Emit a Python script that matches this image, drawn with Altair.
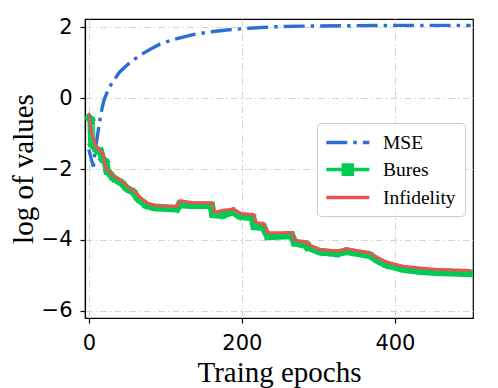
import altair as alt
import pandas as pd

series_names = ["MSE", "Bures", "Infidelity"]
series_colors = ["#2b6fd6", "#00cc55", "#eb5252"]
series_dashes = [[21, 6, 3.5, 6], [1, 0], [1, 0]]

mse_epoch = [0, 3, 6, 8, 11, 15, 17.5, 20, 25, 30, 40, 50, 60, 71, 82, 93, 110, 136, 160, 180, 210, 241, 280, 330, 400, 450, 499]
mse_value = [-1.45, -1.7, -1.93, -1.55, -1.1, -0.54, -0.27, -0.05, 0.22, 0.42, 0.73, 0.93, 1.1, 1.26, 1.4, 1.52, 1.65, 1.79, 1.87, 1.92, 1.97, 2.01, 2.03, 2.04, 2.05, 2.05, 2.05]

bures_epoch = [0, 3, 4, 10, 15, 18, 22, 24, 32, 43, 50, 58, 65, 75, 85, 100, 115, 119, 135, 160, 162, 175, 188, 197, 214, 216, 228, 234, 265, 269, 285, 286, 302, 324, 337, 367, 377, 389, 411, 433, 455, 497]
bures_value = [-0.55, -0.62, -1.3, -1.45, -1.5, -1.72, -1.8, -2.05, -2.25, -2.4, -2.55, -2.65, -2.85, -3.02, -3.08, -3.1, -3.12, -3.0, -3.02, -3.02, -3.28, -3.3, -3.2, -3.32, -3.37, -3.62, -3.64, -3.9, -3.87, -4.08, -4.15, -4.2, -4.33, -4.38, -4.32, -4.43, -4.57, -4.7, -4.82, -4.88, -4.91, -4.94]

inf_epoch = [0, 3.5, 10, 18, 23, 32, 43, 49, 58, 64.5, 77.5, 84, 100, 115, 119, 136, 160, 164.5, 175.5, 188, 193, 199.5, 215, 219, 228, 234, 265, 269, 285, 286, 302, 324, 337, 367, 377, 389, 411, 433, 455, 499]
inf_value = [-0.44, -1.01, -1.39, -1.55, -2.0, -2.19, -2.33, -2.47, -2.6, -2.76, -2.97, -3.02, -3.05, -3.06, -2.89, -2.95, -2.95, -3.22, -3.16, -3.13, -3.18, -3.26, -3.28, -3.52, -3.53, -3.8, -3.79, -4.01, -4.05, -4.12, -4.27, -4.31, -4.25, -4.36, -4.5, -4.62, -4.74, -4.79, -4.83, -4.86]

x_ticks = [0, 200, 400]
y_ticks = [-6, -4, -2, 0, 2]

df_mse = pd.DataFrame({"epoch": mse_epoch, "value": mse_value, "series": "MSE"})
df_bures = pd.DataFrame({"epoch": bures_epoch, "value": bures_value, "series": "Bures"})
df_inf = pd.DataFrame({"epoch": inf_epoch, "value": inf_value, "series": "Infidelity"})

grid_dash = [7, 3, 1.5, 3]

x_enc = alt.X("epoch:Q", scale=alt.Scale(domain=[-5, 502], nice=False, zero=False),
              axis=alt.Axis(values=x_ticks, title="Traing epochs", grid=True, labelPadding=9,
                            gridDash=grid_dash, titleY=63, titleBaseline="alphabetic"))
y_enc = alt.Y("value:Q", scale=alt.Scale(domain=[-6.2, 2.23], nice=False, zero=False),
              axis=alt.Axis(values=y_ticks, title="log of values", grid=True, labelPadding=8,
                            gridDash=grid_dash,
                            labelExpr="replace(datum.label, '-', '\u2212')",
                            titleX=-53, titleBaseline="alphabetic"))

# legend symbols: unit = 8.5 px (symbolSize 289), line spans 43 px
line_path = "M-1.2,0H3.86"
bures_path = "M-1.2,0H3.86M0.8,-0.55H1.86V0.55H0.8Z"
legend = alt.Legend(
    title=None, orient="none", legendX=232, legendY=104,
    symbolType={"expr": "datum.value === 'Bures' ? '" + bures_path + "' : '" + line_path + "'"},
    symbolFillColor={"expr": "datum.value === 'Bures' ? '#00cc55' : 'transparent'"},
    symbolDash={"expr": "datum.value === 'MSE' ? [21, 6, 3.5, 6] : [1, 0]"},
    symbolSize=289, symbolStrokeWidth=3.4,
    labelFont="Liberation Serif", labelFontSize=19.5, labelColor="black",
    labelOffset=36, rowPadding=6, padding=9,
    strokeColor="#cccccc", fillColor="rgba(255,255,255,0.85)", cornerRadius=4,
)
color_enc = alt.Color("series:N", scale=alt.Scale(domain=series_names, range=series_colors),
                      legend=legend)
dash_enc = alt.StrokeDash("series:N", scale=alt.Scale(domain=series_names, range=series_dashes),
                          legend=None)

mse = alt.Chart(df_mse).mark_line(strokeWidth=3.4).encode(
    x=x_enc, y=y_enc, color=color_enc, strokeDash=dash_enc)
bures = alt.Chart(df_bures).mark_line(strokeWidth=7.5, strokeJoin="miter", strokeCap="square").encode(
    x=x_enc, y=y_enc, color=color_enc, strokeDash=dash_enc)
inf = alt.Chart(df_inf).mark_line(strokeWidth=3).encode(
    x=x_enc, y=y_enc, color=color_enc, strokeDash=dash_enc)

chart = alt.layer(mse, bures, inf).properties(
    width=388, height=299,
    autosize=alt.AutoSizeParams(type="none"),
    padding={"left": 77, "top": 11, "right": 17, "bottom": 75},
).configure_view(stroke="black", strokeWidth=1.2).configure_axis(
    domainColor="black", domainWidth=1.2, tickColor="black", tickWidth=1.2, tickSize=5,
    labelFont="DejaVu Sans", labelFontSize=21, labelColor="black",
    titleFont="Liberation Serif", titleFontSize=29, titleFontWeight="normal", titleColor="black",
    gridColor="#d4d4d4", gridWidth=1,
)

chart.save("out.html", embed_options={"renderer": "svg", "actions": False})
